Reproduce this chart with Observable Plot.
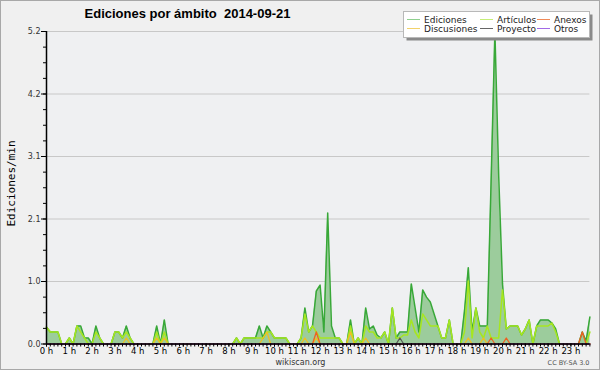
<!DOCTYPE html>
<html>
<head>
<meta charset="utf-8">
<script src="https://cdn.jsdelivr.net/npm/d3@7"></script>
<script src="https://cdn.jsdelivr.net/npm/@observablehq/plot@0.6"></script>
<style>
  html, body { margin: 0; padding: 0; background: #f0f0f0; }
  #chart { position: relative; width: 600px; height: 370px; overflow: hidden; }
</style>
</head>
<body>
<div id="chart"></div>
<script>
// Values per 10-minute slot (00:00 .. 23:50), edits per minute
const ediciones = [
  .28,.2,.2,.2,0,0,.1,0,.3,.3,.1,.1,
  0,.3,.1,0,0,0,.2,.2,.1,.3,.1,0,
  0,0,0,0,0,.3,0,.4,0,0,0,0,
  0,0,0,0,0,0,0,0,0,0,0,0,
  0,0,.1,0,.1,.1,.1,.1,.3,.1,.3,.2,
  .1,.1,.1,.1,0,0,0,.1,.6,.2,.3,.88,
  .98,.2,2.18,.3,.1,.1,0,0,.4,0,.1,0,
  .6,.25,.3,.15,.1,.2,0,.6,.1,.2,.2,.2,
  1.0,.6,.2,.9,.78,.7,.5,.3,.1,.1,.4,0,
  0,0,.55,1.27,.2,.6,.3,.3,.3,2.7,5.2,2.8,
  1.0,.25,.3,.3,.3,.15,.25,.4,0,.3,.4,.4,
  .4,.35,.25,0,0,0,0,0,0,.2,.05,.45
];
const articulos = [
  .28,.2,.2,.2,0,0,.1,0,.3,.2,.1,0,
  0,.2,.1,0,0,0,.2,.2,.1,.2,.1,0,
  0,0,0,0,0,.2,0,.2,0,0,0,0,
  0,0,0,0,0,0,0,0,0,0,0,0,
  0,0,.1,0,.1,.1,.1,.1,.1,.1,.2,.2,
  .1,.1,.1,.1,0,0,0,.1,.5,.2,.3,.2,
  .1,.1,.1,.1,.1,.1,0,0,.3,0,.1,0,
  .3,.2,.2,.1,.1,.2,0,.6,.1,.1,.15,.15,
  .4,.2,.1,.5,.4,.3,.3,.3,.1,.1,.4,0,
  0,0,.2,1.05,.1,.6,.2,.1,.3,.1,.1,.1,
  .9,.25,.3,.3,.3,.15,.25,.4,0,.3,.3,.3,
  .3,.35,.2,0,0,0,0,0,0,0,0,.2
];
const discusiones = [
  0,0,0,0,0,0,0,0,0,0,0,0,
  0,0,0,0,0,0,0,0,0,.1,0,0,
  0,0,0,0,0,.1,0,.1,0,0,0,0,
  0,0,0,0,0,0,0,0,0,0,0,0,
  0,0,0,0,0,0,0,0,0,.1,.2,0,
  0,0,0,0,0,0,0,0,.1,0,0,.1,
  0,0,0,0,0,0,0,0,.2,0,0,0,
  .1,0,0,0,0,0,0,0,0,0,0,0,
  0,0,0,0,0,0,0,0,0,0,0,0,
  0,0,0,.1,0,0,0,.1,0,0,0,0,
  0,0,0,0,0,0,0,0,0,0,0,0,
  0,0,0,0,0,0,0,0,0,0,0,0
];
const anexos = [
  0,0,0,0,0,0,0,0,0,0,0,0,
  0,0,0,0,0,0,0,0,0,0,0,0,
  0,0,0,0,0,0,0,0,0,0,0,0,
  0,0,0,0,0,0,0,0,0,0,0,0,
  0,0,0,0,0,0,0,0,0,0,0,0,
  0,0,0,0,0,0,0,0,0,0,0,.2,
  0,0,0,0,0,0,0,0,0,0,0,0,
  0,0,0,0,0,0,0,0,0,0,0,0,
  0,0,0,0,0,0,0,0,0,0,0,0,
  0,0,0,0,0,0,0,0,0,.1,0,0,
  0,.1,0,0,0,0,0,0,0,0,0,0,
  0,0,0,0,0,0,0,0,0,.2,0,0
];
const proyecto = [
  0,0,0,0,0,0,0,0,0,0,0,0,
  0,0,0,0,0,0,0,0,0,0,0,0,
  0,0,0,0,0,0,0,0,0,0,0,0,
  0,0,0,0,0,0,0,0,0,0,0,0,
  0,0,0,0,0,0,0,0,0,0,0,0,
  0,0,0,0,0,0,0,0,0,0,0,0,
  0,0,0,0,0,0,0,0,0,0,0,0,
  0,0,0,0,0,0,0,0,0,.1,0,0,
  0,0,0,0,0,0,0,0,0,0,0,0,
  0,0,0,0,0,0,0,0,0,0,0,0,
  0,0,0,0,0,0,0,0,0,0,0,0,
  0,0,0,0,0,0,0,0,0,0,0,0
];
const otros = new Array(144).fill(0);

const hourLabels = ["0 h","1 h","2 h","3 h","4 h","5 h","6 h","7 h","8 h","9 h","10 h","11 h",
  "12 h","13 h","14 h","15 h","16 h","17 h","18 h","19 h","20 h","21 h","22 h","23 h"];
const yTicks = [0, 1.04, 2.08, 3.12, 4.16, 5.2];
const yLabels = ["0.0", "1.0", "2.1", "3.1", "4.2", "5.2"];

const seriesNames = ["Ediciones", "Artículos", "Anexos", "Discusiones", "Proyecto", "Otros"];
const seriesColors = ["#38a838", "#a6e620", "#f06020", "#f0c020", "#555555", "#9a40e8"];
const legendColors = ["#8fd08f", "#c6ee78", "#f08a58", "#f2d26a", "#666666", "#a26ae6"];

const title = "Ediciones por ámbito  2014-09-21";
const yLabel = "Ediciones/min";
const footer = "wikiscan.org";
const license = "CC BY-SA 3.0";

const rows = ediciones.map((v, i) => ({
  i, ed: v, art: articulos[i], disc: discusiones[i], anx: anexos[i], proy: proyecto[i], otr: otros[i]
}));
const slotTicks = d3.range(ediciones.length);
const hourTicks = hourLabels.map((_, h) => h * 6);
const yMinor = d3.range(21).map(k => +(k * 0.26).toFixed(2));

const chart = Plot.plot({
  width: 600,
  height: 370,
  marginLeft: 46,
  marginRight: 10.6,
  marginTop: 31,
  marginBottom: 26.5,
  x: {domain: [0, 143], axis: null, label: null},
  y: {domain: [0, 5.2], axis: null, label: null},
  style: {background: "#f0f0f0", fontFamily: "DejaVu Sans"},
  marks: [
    Plot.frame({fill: "#eff0f2", stroke: null}),
    Plot.ruleY(yTicks.slice(1), {stroke: "#c8c8c8", strokeWidth: 1}),
    Plot.areaY(rows, {x: "i", y: "ed", fill: "#9ccc9c"}),
    Plot.lineY(rows, {x: "i", y: "ed", stroke: seriesColors[0], strokeWidth: 1.5}),
    Plot.lineY(rows, {x: "i", y: "art", stroke: seriesColors[1], strokeWidth: 1.5}),
    Plot.lineY(rows, {x: "i", y: "disc", stroke: seriesColors[3], strokeWidth: 1.3}),
    Plot.lineY(rows, {x: "i", y: "anx", stroke: seriesColors[2], strokeWidth: 1.3}),
    Plot.lineY(rows, {x: "i", y: "proy", stroke: seriesColors[4], strokeWidth: 1.2}),
    Plot.lineY(rows, {x: "i", y: "otr", stroke: seriesColors[5], strokeWidth: 1.2}),
    Plot.axisY({ticks: yMinor, tickSize: 3, text: null, anchor: "left", label: null}),
    Plot.axisY({ticks: yTicks, tickSize: 5, tickPadding: 1, anchor: "left", label: null,
      tickFormat: d => yLabels[yTicks.indexOf(d)], fontSize: 8, fill: "#333"}),
    Plot.axisX({ticks: slotTicks, tickSize: 3, text: null, anchor: "bottom", label: null}),
    Plot.axisX({ticks: hourTicks, tickSize: 3, tickPadding: 1, anchor: "bottom", label: null,
      tickFormat: d => hourLabels[d / 6], fontSize: 8.5}),
    Plot.ruleY([0], {stroke: "#000", strokeWidth: 1.5}),
    Plot.ruleX([0], {stroke: "#000", strokeWidth: 1.5})
  ]
});

const svg = d3.select(chart);
svg.append("rect").attr("x", 0.5).attr("y", 0.5).attr("width", 599).attr("height", 369)
  .attr("fill", "none").attr("stroke", "#a8a8a8");

svg.append("text").attr("x", 187.5).attr("y", 18).attr("text-anchor", "middle")
  .attr("font-family", "'Liberation Sans', Arial, sans-serif").attr("font-weight", "bold")
  .attr("font-size", 13).attr("fill", "#000").text(title);

svg.append("text").attr("transform", "translate(14.5,183.5) rotate(-90)")
  .attr("text-anchor", "middle").attr("font-family", "'DejaVu Sans Mono', monospace")
  .attr("font-size", 11).attr("fill", "#000").text(yLabel);

svg.append("text").attr("x", 300.5).attr("y", 364.5).attr("text-anchor", "middle")
  .attr("font-family", "'DejaVu Sans', sans-serif").attr("font-size", 8)
  .attr("fill", "#333").text(footer);

svg.append("text").attr("x", 589.5).attr("y", 365).attr("text-anchor", "end")
  .attr("font-family", "'DejaVu Sans', sans-serif").attr("font-size", 6.5)
  .attr("fill", "#555").text(license);

// Legend box
const lg = svg.append("g");
lg.append("rect").attr("x", 406.5).attr("y", 14.5).attr("width", 186).attr("height", 26).attr("fill", "#8a8a8a");
lg.append("rect").attr("x", 403.5).attr("y", 11.5).attr("width", 186).attr("height", 26)
  .attr("fill", "#fff").attr("stroke", "#b8b8b8");
const colX = [407, 480, 537];
const rowY = [19.5, 28.5];
seriesNames.forEach((name, k) => {
  const c = k % 3, r = Math.floor(k / 3);
  lg.append("line").attr("x1", colX[c]).attr("x2", colX[c] + 13)
    .attr("y1", rowY[r]).attr("y2", rowY[r]).attr("stroke", legendColors[k]).attr("stroke-width", 1);
  lg.append("text").attr("x", colX[c] + 17).attr("y", rowY[r] + 3.2)
    .attr("text-anchor", "start")
    .attr("font-family", "'DejaVu Sans', sans-serif").attr("font-size", 9)
    .attr("fill", "#222").text(name);
});

document.getElementById("chart").appendChild(chart);
</script>
</body>
</html>
